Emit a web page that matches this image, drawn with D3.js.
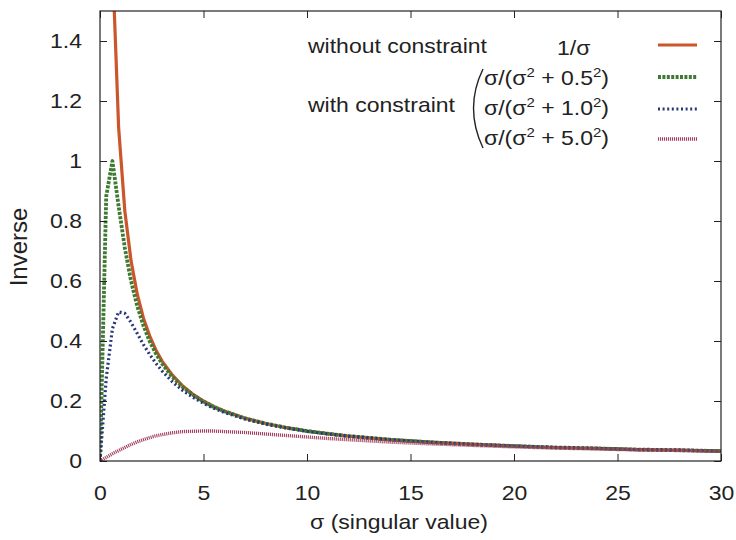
<!DOCTYPE html>
<html>
  <head>
    <meta charset="utf-8">
    <title>Inverse vs singular value</title>
    <script src="https://d3js.org/d3.v7.min.js"></script>
    <style>
      body { margin: 0; background: #fff; }
    </style>
  </head>
  <body>
    <div id="chart"></div>
    <script>
      const sigma   = [0, 0.3, 0.6, 0.9, 1.2, 1.5, 1.8, 2.1, 2.4, 2.7, 3.0,
                       3.5, 4, 4.5, 5, 5.5, 6,
                       7, 8, 9, 10, 11, 12,
                       14, 16, 18, 20, 22, 24, 26, 28, 30];
      const inverse = [null, null, 1.667, 1.111, 0.833, 0.667, 0.556, 0.476, 0.417, 0.370, 0.333,
                       0.286, 0.250, 0.222, 0.200, 0.182, 0.167,
                       0.143, 0.125, 0.111, 0.100, 0.091, 0.083,
                       0.071, 0.063, 0.056, 0.050, 0.045, 0.042, 0.038, 0.036, 0.033];
      const con05   = [0, 0.882, 1.0, 0.849, 0.710, 0.600, 0.516, 0.451, 0.399, 0.358, 0.324,
                       0.280, 0.246, 0.220, 0.198, 0.180, 0.166,
                       0.142, 0.125, 0.111, 0.100, 0.091, 0.083,
                       0.071, 0.062, 0.055, 0.050, 0.045, 0.042, 0.038, 0.036, 0.033];
      const con10   = [0, 0.275, 0.441, 0.497, 0.492, 0.462, 0.425, 0.388, 0.355, 0.326, 0.300,
                       0.264, 0.235, 0.212, 0.192, 0.176, 0.162,
                       0.140, 0.123, 0.110, 0.099, 0.090, 0.083,
                       0.071, 0.062, 0.055, 0.050, 0.045, 0.042, 0.038, 0.036, 0.033];
      const con50   = [0, 0.012, 0.024, 0.035, 0.045, 0.055, 0.064, 0.071, 0.078, 0.084, 0.088,
                       0.094, 0.098, 0.099, 0.100, 0.100, 0.098,
                       0.095, 0.090, 0.085, 0.080, 0.075, 0.071,
                       0.063, 0.057, 0.052, 0.047, 0.043, 0.040, 0.037, 0.035, 0.032];

      const xTicks = [0, 5, 10, 15, 20, 25, 30];
      const yTicks = [0, 0.2, 0.4, 0.6, 0.8, 1, 1.2, 1.4];
      const radii  = ["0.5", "1.0", "5.0"];

      const width = 736, height = 540;
      const margin = {top: 11, right: 15, bottom: 79, left: 100};
      const SX = 1.15;   // the scanned figure is a bit wider than plain Arial
      const font = "'Liberation Sans', Arial, Helvetica, sans-serif";
      const ink = "#222";

      const svg = d3.select("#chart")
                    .append("svg")
                    .attr("width", width)
                    .attr("height", height)
                    .style("font-family", font);

      const xScale = d3.scaleLinear()
                       .domain([0, 30])
                       .range([margin.left, width - margin.right]);
      const yScale = d3.scaleLinear()
                       .domain([0, 1.5])
                       .range([height - margin.bottom, margin.top]);

      // clip
      svg.append("clipPath").attr("id", "plotClip")
         .append("rect")
         .attr("x", margin.left).attr("y", margin.top)
         .attr("width", width - margin.left - margin.right)
         .attr("height", height - margin.top - margin.bottom);

      // curves
      const series = [
        {values: inverse, color: "#cc562c", width: 3.2, dash: null},
        {values: con05,   color: "#3f7a33", width: 3.8, dash: "3,1.4"},
        {values: con10,   color: "#26377a", width: 3.2, dash: "2,2.6"},
        {values: con50,   color: "#a3405e", width: 3.4, dash: "1.1,0.9"}
      ];

      const line = d3.line()
                     .defined(d => d[1] !== null)
                     .x(d => xScale(d[0]))
                     .y(d => yScale(d[1]))
                     .curve(d3.curveLinear);

      const curves = svg.append("g").attr("clip-path", "url(#plotClip)");
      series.forEach(s => {
        curves.append("path")
              .datum(sigma.map((x, i) => [x, s.values[i]]))
              .attr("d", line)
              .attr("fill", "none")
              .attr("stroke", s.color)
              .attr("stroke-width", s.width)
              .attr("stroke-dasharray", s.dash)
              .attr("stroke-linejoin", "round");
      });

      // axes (ticks inward, mirrored on top and right)
      const styleAxis = g => {
        g.select(".domain").remove();
        g.selectAll(".tick line").attr("stroke", ink).attr("stroke-width", 1);
        g.selectAll(".tick text")
         .attr("fill", ink)
         .style("font-size", "20px")
         .style("font-family", font);
      };

      const xAxis = svg.append("g")
                       .attr("transform", `translate(0, ${height - margin.bottom})`)
                       .call(d3.axisBottom(xScale).tickValues(xTicks)
                               .tickSizeInner(-7).tickSizeOuter(0).tickPadding(25)
                               .tickFormat(d3.format("d")))
                       .call(styleAxis);
      xAxis.selectAll(".tick text").attr("transform", `scale(${SX},1)`);

      const yAxis = svg.append("g")
                       .attr("transform", `translate(${margin.left}, 0)`)
                       .call(d3.axisLeft(yScale).tickValues(yTicks)
                               .tickSizeInner(-7).tickSizeOuter(0).tickPadding(18)
                               .tickFormat(d => d3.format("~g")(d)))
                       .call(styleAxis);
      yAxis.selectAll(".tick text")
           .attr("x", -18 / SX)
           .attr("transform", `scale(${SX},1)`);

      svg.append("g")
         .attr("transform", `translate(0, ${margin.top})`)
         .call(d3.axisTop(xScale).tickValues(xTicks).tickSizeInner(-7).tickSizeOuter(0).tickFormat(""))
         .call(styleAxis);
      svg.append("g")
         .attr("transform", `translate(${width - margin.right}, 0)`)
         .call(d3.axisRight(yScale).tickValues(yTicks).tickSizeInner(-7).tickSizeOuter(0).tickFormat(""))
         .call(styleAxis);

      // frame
      svg.append("rect")
         .attr("x", margin.left).attr("y", margin.top)
         .attr("width", width - margin.left - margin.right)
         .attr("height", height - margin.top - margin.bottom)
         .attr("fill", "none")
         .attr("stroke", ink)
         .attr("stroke-width", 1.2);

      // stretched text helper
      const label = (x, y, anchor, size) =>
        svg.append("g")
           .attr("transform", `translate(${x}, ${y}) scale(${SX},1)`)
           .append("text")
           .attr("text-anchor", anchor)
           .attr("fill", ink)
           .style("font-size", size + "px");

      // axis titles
      label(399, 529, "middle", 20).text("σ (singular value)");
      svg.append("text")
         .attr("transform", "translate(27, 247) rotate(-90)")
         .attr("text-anchor", "middle")
         .attr("fill", ink)
         .style("font-size", "24px")
         .text("Inverse");

      // legend
      const rowBase = [55, 85, 115, 145];
      const sampleY = [45, 77, 109, 139];

      label(308, 53, "start", 20).text("without constraint");
      label(308, 112, "start", 20).text("with constraint");
      label(557, rowBase[0], "start", 20).text("1/σ");

      radii.forEach((r, i) => {
        const t = label(484, rowBase[i + 1], "start", 20);
        t.append("tspan").text("σ/(σ");
        t.append("tspan").attr("dy", -8).style("font-size", "13px").text("2");
        t.append("tspan").attr("dy", 8).text(" + " + r);
        t.append("tspan").attr("dy", -8).style("font-size", "13px").text("2");
        t.append("tspan").attr("dy", 8).text(")");
      });

      // big bracket
      svg.append("path")
         .attr("d", "M483,69 Q464,108 483,148")
         .attr("fill", "none")
         .attr("stroke", ink)
         .attr("stroke-width", 1.4);

      series.forEach((s, i) => {
        svg.append("line")
           .attr("x1", 658).attr("x2", 697)
           .attr("y1", sampleY[i]).attr("y2", sampleY[i])
           .attr("stroke", s.color)
           .attr("stroke-width", s.width)
           .attr("stroke-dasharray", s.dash);
      });
    </script>
  </body>
</html>
